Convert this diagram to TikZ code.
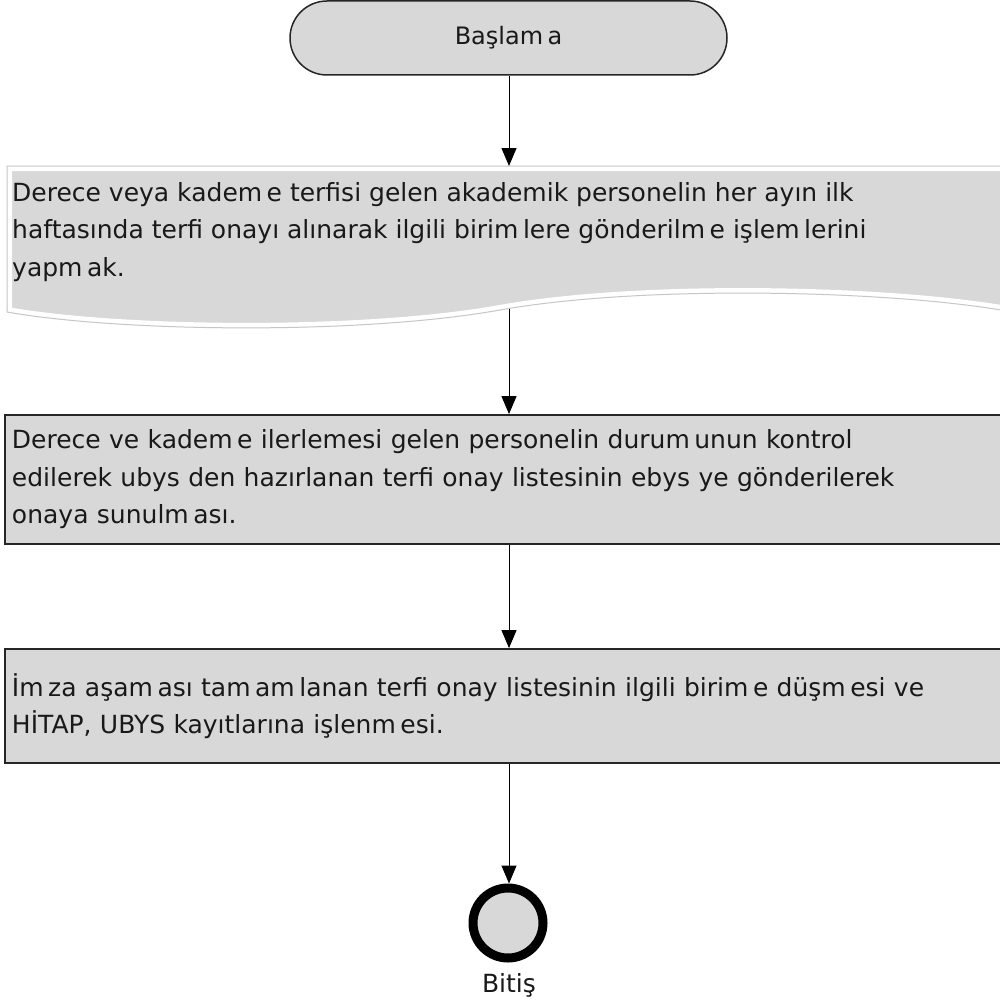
\documentclass[tikz,border=0pt]{standalone}
\usepackage{fontspec}
\setmainfont{DejaVu Sans}
\usetikzlibrary{arrows.meta}
\definecolor{boxfill}{HTML}{D8D8D8}
\definecolor{edgecol}{HTML}{262626}
\newcommand{\gp}{\kern0.18em}
\begin{document}
\begin{tikzpicture}[x=1pt,y=-1pt,
  txt/.style={font=\fontsize{25}{37.5}\selectfont, align=left, inner sep=0pt, text=black!90},
  arr/.style={-{Triangle[width=15pt,length=18pt]}, line width=1pt, draw=black},
  procbox/.style={draw=edgecol, line width=1.8pt, fill=boxfill, minimum width=996pt,
    text width=982pt, align=left, inner xsep=7pt, inner ysep=0pt,
    font=\fontsize{25}{37.5}\selectfont, text=black!90}]
\useasboundingbox (0,0) rectangle (999,1006);
% start
\node[draw=edgecol, line width=1.5pt, fill=boxfill, rounded corners=37pt,
  minimum width=437pt, minimum height=74pt, inner sep=0pt, text=black!90,
  font=\fontsize{24}{28}\selectfont] (start) at (508.5,38) {Başlam\gp a};
% document shape
\path[fill=boxfill] (7,166) -- (1001,166) -- (1001,310)
  .. controls (880,290) and (640,285) .. (500,310)
  .. controls (360,335) and (120,332) .. (7,312) -- cycle;
\draw[white, line width=10pt] (7,166) -- (1001,166) (1001,310)
  .. controls (880,290) and (640,285) .. (500,310)
  .. controls (360,335) and (120,332) .. (7,312) -- (7,166);
\draw[gray!45, line width=1pt] (7,166) -- (1001,166) -- (1001,310)
  .. controls (880,290) and (640,285) .. (500,310)
  .. controls (360,335) and (120,332) .. (7,312) -- cycle;
\coordinate (doctop) at (509,166);
\coordinate (docbot) at (509,309);
\node[txt, anchor=west] (doctext) at (12,232) {Derece veya kadem\gp e terfisi gelen akademik personelin her ayın ilk\\
haftasında terfi onayı alınarak ilgili birim\gp lere gönderilm\gp e işlem\gp lerini\\
yapm\gp ak.};
% process boxes
\node[procbox, minimum height=129pt] (p2) at (503,479.5) {Derece ve kadem\gp e ilerlemesi gelen personelin durum\gp unun kontrol\\
edilerek ubys den hazırlanan terfi onay listesinin ebys ye gönderilerek\\
onaya sunulm\gp ası.};
\draw[edgecol, line width=2pt] ([yshift=1pt]p2.south west) -- ([yshift=1pt]p2.south east);
\node[procbox, minimum height=114pt] (p3) at (503,706) {İm\gp za aşam\gp ası tam\gp am\gp lanan terfi onay listesinin ilgili birim\gp e düşm\gp esi ve\\
HİTAP, UBYS kayıtlarına işlenm\gp esi.};
\draw[edgecol, line width=1pt] ([yshift=1pt]p3.south west) -- ([yshift=1pt]p3.south east);
% end
\node[circle, draw=black, line width=9pt, fill=boxfill, minimum size=70pt, inner sep=0pt] (end) at (508,923) {};
\node[font=\fontsize{25}{30}\selectfont, text=black!90, inner sep=0pt] (endlbl) at (509,985) {Bitiş};
% arrows
\draw[arr] (start.south -| doctop) -- (doctop);
\draw[arr] (docbot) -- (p2.north -| docbot);
\draw[arr] (p2.south -| docbot) -- (p3.north -| docbot);
\draw[arr] (p3.south -| docbot) -- (end.north -| docbot);
\end{tikzpicture}
\end{document}
